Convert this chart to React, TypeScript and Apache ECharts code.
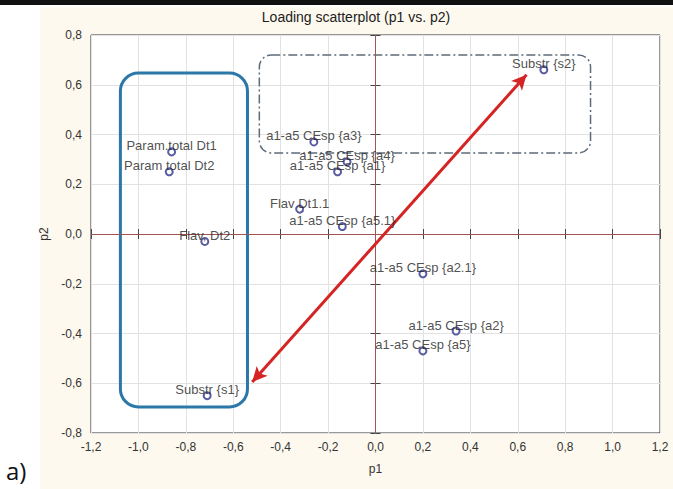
import React, { useEffect, useRef } from "react";
import * as echarts from "echarts";

const pointNames = [
  "Substr {s2}",
  "a1-a5 CEsp {a3}",
  "a1-a5 CEsp {a4}",
  "a1-a5 CEsp {a1}",
  "Flav Dt1.1",
  "a1-a5 CEsp {a5.1}",
  "Param.total Dt1",
  "Param total Dt2",
  "Flav, Dt2",
  "a1-a5 CEsp {a2.1}",
  "a1-a5 CEsp {a2}",
  "a1-a5 CEsp {a5}",
  "Substr {s1}",
];
const p1Values = [0.71, -0.26, -0.12, -0.16, -0.32, -0.14, -0.86, -0.87, -0.72, 0.2, 0.34, 0.2, -0.71];
const p2Values = [0.66, 0.37, 0.29, 0.25, 0.1, 0.03, 0.33, 0.25, -0.03, -0.16, -0.39, -0.47, -0.65];

const xRange = [-1.2, 1.2];
const yRange = [-0.8, 0.8];
const tickStep = 0.2;

const arrowFrom = [-0.52, -0.595];
const arrowTo = [0.637, 0.64];
const leftBox = [-1.076, 0.647, -0.54, -0.695];
const topBox = [-0.49, 0.72, 0.907, 0.326];

const titleText = "Loading scatterplot (p1 vs. p2)";
const xName = "p1";
const yName = "p2";
const panelTag = "a)";

const fmt = (v: number) => {
  const r = Math.round(v * 10) / 10;
  return (Math.abs(r) < 1e-9 ? 0 : r).toFixed(1).replace(".", ",");
};

const FONT = "'Liberation Sans', Arial, sans-serif";

export default function App() {
  const ref = useRef<HTMLDivElement>(null);

  useEffect(() => {
    if (!ref.current) return;
    const chart = echarts.init(ref.current, undefined, { renderer: "svg" });

    const boxSeries = (box: number[], stroke: string, width: number, dash: any, radius: number) => ({
      type: "custom",
      xAxisIndex: 0,
      yAxisIndex: 0,
      silent: true,
      z: 3,
      encode: { x: [0, 2], y: [1, 3] },
      data: [box],
      renderItem: (params: any, api: any) => {
        const a = api.coord([api.value(0), api.value(1)]);
        const b = api.coord([api.value(2), api.value(3)]);
        return {
          type: "rect",
          shape: {
            x: Math.min(a[0], b[0]),
            y: Math.min(a[1], b[1]),
            width: Math.abs(b[0] - a[0]),
            height: Math.abs(b[1] - a[1]),
            r: radius,
          },
          style: { fill: "none", stroke, lineWidth: width, lineDash: dash },
        };
      },
    });

    const axisCommon = {
      type: "value",
      interval: tickStep,
      axisLine: { show: false },
      axisTick: { show: true, inside: true, length: 5, lineStyle: { color: "#444" } },
    };

    chart.setOption({
      animation: false,
      grid: {
        left: 91,
        right: 13,
        top: 35,
        bottom: 56,
        show: true,
        backgroundColor: "#ffffff",
        borderColor: "#333",
        borderWidth: 1,
      },
      xAxis: [
        {
          ...axisCommon,
          min: xRange[0],
          max: xRange[1],
          position: "bottom",
          name: xName,
          nameLocation: "middle",
          nameGap: 30,
          nameTextStyle: { fontFamily: FONT, fontSize: 12, color: "#333" },
          axisLabel: { formatter: fmt, fontFamily: FONT, fontSize: 12, color: "#333", margin: 8 },
          splitLine: { show: true, lineStyle: { color: "#e2e2e2", width: 1 } },
        },
        {
          ...axisCommon,
          min: xRange[0],
          max: xRange[1],
          position: "top",
          axisLabel: { show: false },
          splitLine: { show: false },
        },
      ],
      yAxis: [
        {
          ...axisCommon,
          min: yRange[0],
          max: yRange[1],
          position: "left",
          name: yName,
          nameLocation: "middle",
          nameGap: 35,
          nameRotate: 90,
          nameTextStyle: { fontFamily: FONT, fontSize: 12, color: "#333" },
          axisLabel: { formatter: fmt, fontFamily: FONT, fontSize: 12, color: "#333", margin: 9 },
          splitLine: { show: true, lineStyle: { color: "#e2e2e2", width: 1 } },
        },
        {
          ...axisCommon,
          min: yRange[0],
          max: yRange[1],
          position: "right",
          axisLabel: { show: false },
          splitLine: { show: false },
        },
      ],
      graphic: [
        {
          type: "text",
          x: 356,
          y: 17,
          style: {
            text: titleText,
            font: `14px ${FONT}`,
            fill: "#222",
            textAlign: "center",
            textVerticalAlign: "middle",
          },
        },
        {
          type: "text",
          x: 6,
          y: 470,
          style: {
            text: panelTag,
            font: `24px 'Open Sans', 'Liberation Sans', sans-serif`,
            fill: "#111",
            textAlign: "left",
            textVerticalAlign: "middle",
          },
        },
      ],
      series: [
        {
          type: "scatter",
          xAxisIndex: 0,
          yAxisIndex: 0,
          symbol: "emptyCircle",
          symbolSize: 7,
          z: 5,
          itemStyle: { color: "#2f3488", borderColor: "#2f3488", borderWidth: 1.2 },
          label: {
            show: true,
            position: "inside",
            offset: [0, -6],
            formatter: (p: any) => pointNames[p.dataIndex],
            fontFamily: FONT,
            fontSize: 13,
            color: "#222",
          },
          data: p1Values.map((x, i) => [x, p2Values[i]]),
          markLine: {
            silent: true,
            symbol: ["none", "none"],
            label: { show: false },
            lineStyle: { color: "#a05454", width: 1, type: "solid" },
            data: [{ xAxis: 0 }, { yAxis: 0 }],
          },
        },
        {
          type: "line",
          xAxisIndex: 0,
          yAxisIndex: 0,
          data: [],
          z: 4,
          markLine: {
            silent: true,
            symbol: ["arrow", "arrow"],
            symbolSize: [11, 15],
            label: { show: false },
            lineStyle: { color: "#d42424", width: 3, type: "solid" },
            data: [[{ coord: arrowFrom }, { coord: arrowTo }]],
          },
        },
        boxSeries(leftBox, "#2b78a8", 3, null, 18),
        boxSeries(topBox, "#5d6b7a", 1.5, [9, 3, 2, 3], 12),
      ],
    });

    return () => chart.dispose();
  }, []);

  return (
    <div style={{ position: "fixed", left: 0, top: 0, width: 673, height: 489, background: "#ffffff" }}>
      <div style={{ position: "absolute", left: 0, top: 0, width: 673, height: 5, background: "#111" }} />
      <div style={{ position: "absolute", left: 40, top: 7, width: 633, height: 482, background: "#fdf9ee" }} />
      <div ref={ref} style={{ position: "absolute", left: 0, top: 0, width: 673, height: 489 }} />
    </div>
  );
}
